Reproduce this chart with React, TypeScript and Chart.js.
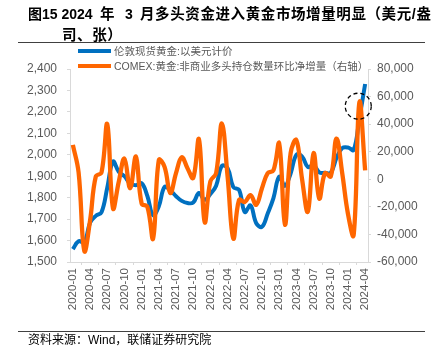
import React, { useEffect, useRef } from "react";
import { Chart, registerables } from "chart.js";

Chart.register(...registerables);

const months: string[] = [
  "2020-01","2020-02","2020-03","2020-04","2020-05","2020-06","2020-07","2020-08","2020-09","2020-10","2020-11","2020-12",
  "2021-01","2021-02","2021-03","2021-04","2021-05","2021-06","2021-07","2021-08","2021-09","2021-10","2021-11","2021-12",
  "2022-01","2022-02","2022-03","2022-04","2022-05","2022-06","2022-07","2022-08","2022-09","2022-10","2022-11","2022-12",
  "2023-01","2023-02","2023-03","2023-04","2023-05","2023-06","2023-07","2023-08","2023-09","2023-10","2023-11","2023-12",
  "2024-01","2024-02","2024-03","2024-04",
];

// 伦敦现货黄金:以美元计价 (left axis)
const goldPrice: number[] = [
  1560, 1597, 1591, 1683, 1715, 1732, 1846, 1968, 1921, 1900, 1866, 1858,
  1867, 1808, 1718, 1760, 1850, 1834, 1807, 1785, 1775, 1777, 1822, 1790,
  1817, 1856, 1948, 1937, 1849, 1836, 1733, 1764, 1681, 1664, 1726, 1798,
  1898, 1855, 1913, 2000, 1992, 1943, 1951, 1918, 1916, 1916, 1985, 2031,
  2034, 2023, 2170, 2330,
];

// COMEX:黄金:非商业多头持仓数量环比净增量 (right axis)
const comexNetChange: number[] = [
  25000, 5000, -52000, -30000, 2000, 5000, 40000, -21000, -2000, 15000, -6500, 16500,
  -17500, -20000, -43000, 14000, 9000, -10000, 4500, 16000, 8000, 1000, 29000, -31000,
  -1500, 4500, 40500, 2000, -43000, -15000, -16500, -11500, -18500, -6500, 4500, 6500,
  26000, -33000, 19000, 28500, 0, -23500, 19000, -14000, 4500, 2000, 29500, 4500,
  -25000, -40500, 56000, 6500,
];

const leftMin = 1500;
const leftMax = 2400;
const leftStep = 100;
const rightMin = -60000;
const rightMax = 80000;
const rightStep = 20000;

const seriesNames = [
  "伦敦现货黄金:以美元计价",
  "COMEX:黄金:非商业多头持仓数量环比净增量（右轴）",
];

// dashed highlight circle (category index, right-axis value)
const highlightIndex = 49.8;
const highlightValue = 53000;

const BLUE = "#0070C0";
const ORANGE = "#FF6600";
const AXIS = "#D9D9D9";
const TICK_TEXT = "#595959";
const FONT = "'Liberation Sans', Arial, 'Noto Sans CJK SC', sans-serif";

const circlePlugin = {
  id: "highlightCircle",
  afterDatasetsDraw(chart: any) {
    const x = chart.scales.x.getPixelForValue(highlightIndex);
    const y = chart.scales.y1.getPixelForValue(highlightValue);
    const ctx = chart.ctx;
    ctx.save();
    ctx.beginPath();
    ctx.setLineDash([4, 3]);
    ctx.lineWidth = 1.3;
    ctx.strokeStyle = "#000000";
    ctx.arc(x, y, 13, 0, Math.PI * 2);
    ctx.stroke();
    ctx.restore();
  },
};

export default function App() {
  const ref = useRef<HTMLCanvasElement>(null);

  useEffect(() => {
    if (!ref.current) return;
    const tickFont = { family: FONT, size: 12 };
    const chart = new Chart(ref.current, {
      type: "line",
      data: {
        labels: months,
        datasets: [
          {
            label: seriesNames[0],
            data: goldPrice,
            yAxisID: "y",
            borderColor: BLUE,
            backgroundColor: BLUE,
            borderWidth: 4,
            pointRadius: 0,
            tension: 0.4,
            order: 2,
          },
          {
            label: seriesNames[1],
            data: comexNetChange,
            yAxisID: "y1",
            borderColor: ORANGE,
            backgroundColor: ORANGE,
            borderWidth: 4.3,
            pointRadius: 0,
            tension: 0.4,
            order: 1,
          },
        ],
      },
      options: {
        responsive: false,
        animation: false,
        events: [],
        layout: { padding: { top: 69, left: 0, right: 0, bottom: 0 } },
        plugins: { legend: { display: false }, tooltip: { enabled: false } },
        scales: {
          x: {
            offset: true,
            grid: { offset: true, drawOnChartArea: false, drawTicks: true, tickLength: 3, color: AXIS },
            border: { display: true, color: AXIS },
            ticks: {
              autoSkip: false,
              maxRotation: 90,
              minRotation: 90,
              padding: 3,
              color: TICK_TEXT,
              font: { family: FONT, size: 11.5 },
              callback: (_v: any, i: number) => (i % 3 === 0 ? months[i] : null),
            },
            afterFit: (s: any) => {
              s.height = 89;
            },
          },
          y: {
            position: "left",
            min: leftMin,
            max: leftMax,
            grid: { drawOnChartArea: false, drawTicks: true, tickLength: 3, color: AXIS },
            border: { display: true, color: AXIS },
            ticks: { stepSize: leftStep, padding: 10, color: TICK_TEXT, font: tickFont },
            afterFit: (s: any) => {
              s.width = 70;
            },
          },
          y1: {
            position: "right",
            min: rightMin,
            max: rightMax,
            grid: { drawOnChartArea: false, drawTicks: true, tickLength: 3, color: AXIS },
            border: { display: true, color: AXIS },
            ticks: { stepSize: rightStep, padding: 6, color: TICK_TEXT, font: tickFont },
            afterFit: (s: any) => {
              s.width = 63;
            },
          },
        },
      },
      plugins: [circlePlugin],
    } as any);
    return () => chart.destroy();
  }, []);

  const legendText: React.CSSProperties = {
    position: "absolute",
    left: 114,
    fontSize: 10.5,
    color: TICK_TEXT,
    fontFamily: FONT,
    whiteSpace: "pre",
    lineHeight: "14px",
  };

  const titleSeg = (left: number, text: string, extra: React.CSSProperties = {}) => (
    <div
      style={{
        position: "absolute",
        left,
        top: 4,
        fontWeight: "bold",
        fontSize: 14.5,
        color: "#000",
        whiteSpace: "pre",
        lineHeight: "20px",
        ...extra,
      }}
    >
      {text}
    </div>
  );

  return (
    <div
      style={{
        position: "fixed",
        left: 0,
        top: 0,
        width: 431,
        height: 351,
        background: "#ffffff",
        overflow: "hidden",
        fontFamily: FONT,
      }}
    >
      <canvas ref={ref} width={431} height={351} style={{ position: "absolute", left: 0, top: 0 }} />
      {titleSeg(28, "图15 2024", { fontSize: 14 })}
      {titleSeg(100, "年")}
      {titleSeg(125, "3", { fontSize: 14 })}
      {titleSeg(140, "月多头资金进入黄金市场增量明显（美元/盎", { fontSize: 14.5, letterSpacing: 0.6 })}
      {titleSeg(62, "司、张）", { top: 25, letterSpacing: 0.6 })}
      <div style={{ position: "absolute", left: 18, top: 42, width: 407, height: 1, background: "#404040" }} />

      <div style={{ position: "absolute", left: 78, top: 49, width: 33, height: 4, background: BLUE }} />
      <div style={{ ...legendText, top: 44 }}>{seriesNames[0]}</div>
      <div style={{ position: "absolute", left: 78, top: 64, width: 33, height: 4, background: ORANGE }} />
      <div style={{ ...legendText, top: 59 }}>{seriesNames[1]}</div>

      <div style={{ position: "absolute", left: 18, top: 331, width: 407, height: 1, background: "#404040" }} />
      <div
        style={{
          position: "absolute",
          left: 28,
          top: 333,
          fontSize: 12,
          color: "#000",
          whiteSpace: "pre",
          lineHeight: "15px",
        }}
      >
        资料来源：Wind，联储证券研究院
      </div>
    </div>
  );
}
